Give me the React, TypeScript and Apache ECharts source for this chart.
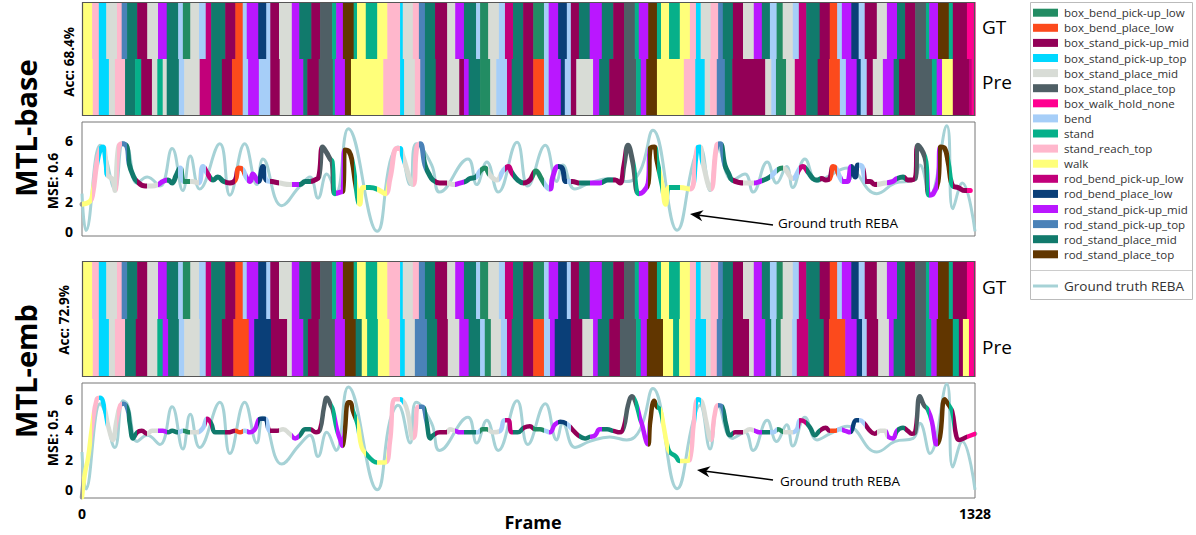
import React, { useEffect, useRef } from "react";
import * as echarts from "echarts";

const CLASS_NAMES = [
  "box_bend_pick-up_low", "box_bend_place_low", "box_stand_pick-up_mid", "box_stand_pick-up_top",
  "box_stand_place_mid", "box_stand_place_top", "box_walk_hold_none", "bend", "stand",
  "stand_reach_top", "walk", "rod_bend_pick-up_low", "rod_bend_place_low", "rod_stand_pick-up_mid",
  "rod_stand_pick-up_top", "rod_stand_place_mid", "rod_stand_place_top",
];
const CLASS_COLORS = [
  "#228C63", "#FC4A1C", "#930057", "#00D8FF", "#D8DCD6", "#4F5F65", "#FF0090", "#A6CEF8", "#06B08A",
  "#FFB7CC", "#FFFF7A", "#C2007A", "#0A3F78", "#BA17FF", "#4A82B8", "#117A6C", "#613600",
];
const GT_LINE_COLOR = "#A6D2D6";
const FRAME_MAX = 1328;
const X_TICKS = [0, 1328];
const Y_TICKS = [0, 2, 4, 6];
const MODEL_NAMES = ["MTL-base", "MTL-emb"];
const ACC_TEXT = ["Acc: 68.4%", "Acc: 72.9%"];
const MSE_TEXT = ["MSE: 0.6", "MSE: 0.5"];
const ROW_NAMES = ["Pre", "GT"];

// segments: [classIndex, endFrame]
const GT_SEG = [
  [10, 15], [9, 25], [3, 36], [4, 52], [9, 59], [14, 67], [15, 82], [2, 97], [4, 113], [13, 126], [15, 143], [7, 150], [0, 161], [4, 174], [7, 184], [11, 192], [15, 213], [2, 228], [1, 239], [7, 245], [13, 262], [12, 274], [7, 280], [2, 293], [4, 312], [13, 323], [15, 341], [2, 354], [5, 372], [8, 378], [13, 388], [16, 404], [8, 409], [10, 422], [8, 439], [10, 454], [9, 473],
  [3, 477], [4, 492], [9, 501], [14, 510], [15, 525], [2, 543], [4, 555], [13, 568], [15, 586], [7, 592], [0, 604], [4, 620], [7, 629], [11, 641], [15, 656], [2, 671], [0, 687], [7, 694], [13, 708], [12, 721], [7, 727], [2, 739], [15, 755], [13, 773], [15, 790], [2, 806], [5, 822], [8, 828], [13, 842], [16, 855], [8, 861], [10, 873], [8, 889], [10, 904], [9, 913],
  [3, 920], [4, 935], [9, 946], [14, 953], [15, 968], [2, 983], [4, 999], [13, 1011], [15, 1023], [7, 1033], [0, 1042], [4, 1057], [7, 1066], [11, 1077], [15, 1097], [2, 1112], [1, 1123], [7, 1130], [13, 1144], [12, 1155], [7, 1164], [2, 1182], [4, 1197], [13, 1212], [15, 1224], [2, 1239], [5, 1255], [8, 1260], [13, 1273], [16, 1289], [8, 1295], [2, 1316], [6, 1328],
];
const BASE_PRE_SEG = [
  [10, 16], [9, 25], [3, 40], [4, 49], [9, 64], [15, 79], [8, 88], [2, 104], [4, 112], [8, 120], [4, 126], [15, 144], [7, 152], [4, 175], [11, 192], [15, 208], [2, 223], [1, 239], [7, 247], [13, 263], [7, 280], [2, 294], [4, 312], [13, 329], [15, 335], [2, 352], [5, 373], [8, 376], [13, 391], [16, 400], [10, 448], [9, 473],
  [3, 479], [4, 495], [9, 503], [14, 510], [15, 526], [2, 543], [4, 561], [2, 568], [13, 575], [15, 592], [0, 607], [4, 616], [7, 632], [11, 639], [15, 656], [2, 671], [1, 687], [7, 694], [13, 712], [12, 718], [7, 727], [2, 735], [4, 760], [13, 769], [15, 784], [2, 806], [5, 824], [8, 831], [13, 839], [16, 855], [10, 895], [9, 912],
  [3, 926], [4, 934], [9, 944], [14, 956], [15, 967], [2, 1016], [4, 1025], [7, 1032], [0, 1047], [4, 1060], [11, 1077], [15, 1094], [2, 1111], [1, 1127], [7, 1136], [13, 1152], [12, 1158], [7, 1167], [2, 1176], [4, 1191], [13, 1207], [15, 1215], [2, 1239], [5, 1264], [8, 1271], [13, 1279], [10, 1295], [2, 1319], [11, 1323], [6, 1328],
];
const EMB_PRE_SEG = [
  [10, 16], [9, 25], [3, 40], [4, 49], [9, 64], [15, 80], [2, 97], [4, 112], [8, 120], [13, 128], [15, 144], [7, 152], [4, 175], [7, 184], [11, 192], [15, 208], [2, 225], [1, 248], [13, 256], [12, 281], [2, 305], [4, 312], [13, 329], [15, 336], [2, 352], [5, 376], [13, 391], [16, 407], [15, 416], [10, 424], [8, 440], [10, 457], [9, 473],
  [3, 480], [4, 495], [14, 513], [15, 528], [2, 544], [4, 561], [13, 575], [15, 592], [7, 599], [0, 608], [4, 623], [7, 632], [11, 639], [15, 656], [2, 671], [1, 687], [7, 696], [13, 703], [12, 727], [2, 744], [4, 760], [13, 767], [15, 784], [2, 800], [5, 824], [8, 831], [13, 840], [16, 864], [10, 879], [8, 888], [10, 904], [9, 912],
  [3, 928], [4, 935], [9, 944], [14, 952], [15, 968], [2, 992], [4, 999], [13, 1016], [15, 1025], [7, 1032], [0, 1039], [4, 1056], [7, 1063], [11, 1080], [15, 1103], [2, 1111], [1, 1135], [13, 1152], [12, 1160], [7, 1167], [2, 1184], [4, 1200], [13, 1207], [15, 1224], [2, 1239], [5, 1255], [8, 1263], [13, 1271], [16, 1295], [8, 1304], [2, 1310], [10, 1319], [6, 1328],
];

// [frame, REBA]
const GT_REBA = [
  [0, 2.5], [6, 0.05], [27, 5.7], [33, 5.3], [49, 2.8], [61, 5.9], [68, 5.6], [82, 3.2], [97, 3.6], [116, 3.0], [134, 5.5], [150, 2.7], [161, 5.0], [175, 2.8], [205, 5.8], [220, 2.4], [242, 5.8], [260, 3.1], [269, 4.8], [297, 1.7], [324, 3.0], [339, 3.6], [351, 2.2], [364, 3.8], [378, 2.6], [396, 6.8], [439, 0.0], [458, 4.6], [470, 5.6],
  [488, 3.1], [497, 5.8], [520, 4.4], [532, 2.6], [574, 4.8], [587, 3.1], [602, 4.6], [619, 2.6], [647, 5.9], [663, 3.0], [689, 5.7], [706, 3.3], [715, 4.4], [733, 2.8], [755, 3.2], [785, 3.5], [810, 3.3], [830, 4.0], [849, 6.7], [885, 0.07], [909, 4.6], [919, 5.6],
  [934, 2.7], [946, 5.6], [967, 3.4], [986, 3.8], [998, 2.6], [1019, 4.6], [1033, 3.2], [1048, 4.3], [1057, 2.9], [1075, 4.8], [1093, 3.3], [1112, 3.7], [1138, 4.2], [1182, 2.5], [1209, 3.2], [1236, 3.4], [1246, 4.4], [1261, 2.4], [1286, 7.0], [1295, 1.5], [1309, 3.2], [1328, 0.0],
];
const BASE_PRED_REBA = [
  [0, 1.8], [12, 2.0], [16, 2.5], [22, 4.5], [27, 5.4], [31, 5.6], [36, 4.4], [37, 3.8], [46, 3.4], [49, 2.7], [54, 5.5], [59, 5.8], [67, 5.6], [70, 4.5], [76, 3.7], [82, 3.3], [94, 3.0], [104, 3.0], [113, 3.1], [120, 3.3], [128, 3.4], [134, 3.2], [140, 3.7], [146, 4.2], [152, 3.3], [164, 3.3], [173, 3.2], [180, 4.3], [187, 3.8], [195, 3.4], [202, 3.6], [211, 3.3], [220, 3.2], [228, 3.4], [233, 4.2], [239, 4.1], [244, 3.6], [250, 3.3], [254, 3.8], [262, 3.3], [269, 4.3], [274, 3.4], [283, 3.3], [294, 3.2], [309, 3.1], [324, 3.1], [332, 3.3], [339, 3.3], [346, 3.4], [352, 3.6], [358, 5.6], [364, 5.2], [369, 4.8], [372, 4.6], [376, 2.5], [384, 2.6], [388, 2.7], [391, 5.4], [397, 5.3], [402, 4.6], [407, 3.1], [413, 1.8], [418, 2.9], [428, 2.9], [439, 2.8], [451, 2.5], [458, 3.5], [468, 5.5],
  [473, 5.5], [477, 5.0], [492, 3.1], [498, 5.6], [503, 5.8], [510, 4.4], [516, 3.8], [522, 3.4], [532, 3.2], [543, 3.2], [552, 3.1], [562, 3.2], [570, 3.3], [577, 3.5], [586, 3.6], [592, 4.0], [599, 4.2], [607, 3.7], [617, 3.4], [626, 4.0], [634, 4.3], [639, 3.9], [648, 3.4], [657, 3.2], [666, 3.4], [675, 4.0], [683, 3.5], [690, 3.0], [696, 2.8], [700, 3.6], [708, 4.3], [714, 4.2], [720, 3.3], [729, 3.3], [741, 3.2], [755, 3.2], [770, 3.2], [782, 3.4], [793, 3.4], [800, 3.2], [806, 4.4], [812, 5.7], [819, 4.6], [828, 2.5], [834, 2.6], [842, 3.2], [845, 5.5], [851, 5.6], [855, 4.7], [863, 3.0], [868, 1.8], [873, 2.9], [889, 2.9], [904, 2.8], [915, 5.5], [919, 5.6], [923, 4.6], [935, 2.8], [944, 5.7], [949, 5.8], [956, 4.4], [962, 3.8], [967, 3.4], [986, 3.2], [998, 3.2], [1008, 3.3], [1023, 3.6], [1035, 4.1], [1042, 4.2], [1057, 3.5], [1068, 4.2],
  [1072, 4.3], [1080, 3.9], [1087, 3.5], [1093, 3.4], [1100, 3.5], [1106, 3.4], [1112, 3.5], [1117, 4.3], [1121, 4.2], [1127, 3.6], [1132, 3.3], [1138, 3.3], [1144, 4.3], [1150, 3.6], [1154, 4.4], [1160, 4.3], [1166, 3.3], [1172, 3.3], [1179, 3.1], [1194, 3.2], [1205, 3.3], [1212, 3.5], [1221, 3.6], [1228, 3.4], [1239, 3.5], [1243, 5.7], [1251, 5.2], [1255, 4.6], [1260, 2.4], [1266, 2.5], [1273, 3.3], [1277, 5.6], [1283, 5.5], [1288, 4.6], [1295, 3.0], [1303, 2.9], [1313, 2.7], [1321, 2.7],
];
const EMB_PRED_REBA = [
  [0, -0.5], [4, 1.0], [9, 2.1], [15, 4.2], [22, 6.0], [27, 6.1], [34, 5.3], [39, 4.2], [46, 3.3], [51, 4.5], [57, 5.6], [62, 5.7], [68, 5.3], [71, 4.4], [76, 3.4], [82, 3.8], [89, 3.9], [97, 3.7], [104, 3.9], [113, 3.9], [120, 3.9], [128, 3.8], [134, 3.9], [143, 3.8], [150, 3.9], [161, 3.8], [171, 3.8], [180, 4.1], [186, 4.7], [192, 4.4], [198, 3.8], [208, 3.8], [217, 3.8], [228, 3.9], [235, 3.8], [242, 3.9], [250, 3.8], [257, 4.0], [265, 4.7], [272, 4.7], [280, 3.9], [290, 3.9], [299, 4.0], [309, 3.7], [317, 3.4], [324, 3.6], [332, 4.0], [339, 4.0], [348, 3.8], [354, 4.0], [360, 5.5], [364, 6.1], [370, 5.6], [373, 5.3], [379, 4.0], [384, 3.3], [387, 2.9], [390, 3.5], [396, 5.8], [399, 5.8], [403, 5.2], [410, 4.3], [416, 2.8], [424, 2.3], [433, 1.9], [439, 1.8], [451, 1.8], [458, 3.2], [465, 6.0],
  [473, 6.0], [480, 5.7], [485, 5.0], [492, 3.4], [495, 3.6], [500, 5.5], [506, 5.5], [512, 4.6], [518, 3.4], [522, 3.6], [532, 3.8], [543, 3.8], [547, 4.0], [555, 3.9], [562, 3.8], [570, 3.8], [580, 3.8], [589, 3.8], [595, 4.0], [602, 4.0], [611, 3.8], [622, 3.9], [628, 4.6], [634, 4.6], [639, 3.8], [648, 3.8], [657, 4.1], [666, 4.2], [674, 4.0], [681, 4.0], [689, 3.9], [696, 3.8], [703, 4.3], [711, 4.5], [720, 4.4], [729, 4.0], [738, 3.6], [748, 3.4], [755, 3.5], [763, 3.6], [770, 4.0], [781, 4.0], [790, 3.9], [800, 3.8], [806, 4.2], [812, 5.6], [818, 6.2], [824, 5.7], [830, 4.7], [833, 4.3], [839, 3.2], [842, 3.0], [845, 4.5], [851, 5.9], [855, 5.5], [860, 5.3], [865, 4.2], [870, 3.0], [874, 2.5], [883, 2.2], [889, 1.9], [898, 1.9], [904, 2.0], [910, 4.5], [916, 6.0], [922, 5.8], [928, 4.6], [935, 3.3], [941, 5.0], [946, 5.6], [952, 5.5], [958, 4.3], [964, 3.6], [971, 3.8], [983, 3.8], [993, 4.0], [1001, 3.9], [1008, 3.8], [1019, 3.8], [1028, 3.8], [1035, 4.0], [1045, 3.8], [1057, 3.8], [1063, 4.0],
  [1068, 4.6], [1075, 4.5], [1083, 4.1], [1090, 3.6], [1097, 3.9], [1106, 4.1], [1112, 3.9], [1120, 3.9], [1127, 4.0], [1135, 3.9], [1142, 3.8], [1151, 4.6], [1157, 4.6], [1163, 4.4], [1172, 3.9], [1179, 3.7], [1187, 3.9], [1194, 3.9], [1199, 3.5], [1206, 3.4], [1212, 3.9], [1221, 4.1], [1228, 3.9], [1234, 3.7], [1239, 3.8], [1246, 6.2], [1252, 5.6], [1258, 5.3], [1264, 4.5], [1269, 3.1], [1271, 3.0], [1276, 3.5], [1283, 6.0], [1289, 5.6], [1294, 5.2], [1300, 3.6], [1304, 3.3], [1316, 3.5], [1328, 3.7],
];

const FONT = '"Open Sans", "Noto Sans", sans-serif';

// layout (pixels)
const PLOT_LEFT = 82;
const PLOT_WIDTH = 893;
const PANELS = [
  { top: 2, height: 114 },
  { top: 122, height: 114 },
  { top: 261, height: 116 },
  { top: 383, height: 115 },
];
const LINE_RANGES = [
  { min: -0.31, max: 7.25 },
  { min: -0.55, max: 7.07 },
];

function segItems(seg: number[][], row: number) {
  let start = 0;
  return seg.map(([c, end]) => {
    const it = [start, end, row, c];
    start = end;
    return it;
  });
}

function segPieces(seg: number[][]) {
  let start = 0;
  return seg.map(([c, end], i) => {
    const p: any = { gte: start, color: CLASS_COLORS[c] };
    if (i === seg.length - 1) p.lte = end + 1;
    else p.lt = end;
    start = end;
    return p;
  });
}

function arrow(tip: number[], tail: number[]) {
  const dx = tip[0] - tail[0];
  const dy = tip[1] - tail[1];
  const len = Math.hypot(dx, dy);
  const ux = dx / len, uy = dy / len;
  const px = -uy, py = ux;
  const L = 13, W = 5.5;
  const bx = tip[0] - ux * L, by = tip[1] - uy * L;
  const nx = tip[0] - ux * (L * 0.7), ny = tip[1] - uy * (L * 0.7);
  return [
    { type: "line", shape: { x1: tail[0], y1: tail[1], x2: nx, y2: ny }, style: { stroke: "#000", lineWidth: 1.6 } },
    {
      type: "polygon",
      shape: { points: [[tip[0], tip[1]], [bx + px * W, by + py * W], [nx, ny], [bx - px * W, by - py * W]] },
      style: { fill: "#000" },
    },
  ];
}

function txt(text: string, x: number, y: number, size: number, opts: any = {}) {
  return {
    type: "text",
    x,
    y,
    rotation: opts.rotation || 0,
    style: {
      text,
      fontSize: size,
      fontWeight: opts.weight || "normal",
      fontFamily: FONT,
      fill: opts.fill || "#000",
      align: opts.align || "center",
      verticalAlign: "middle",
      textAlign: opts.align || "center",
      textVerticalAlign: "middle",
    },
  };
}

export default function App() {
  const ref = useRef<HTMLDivElement>(null);
  useEffect(() => {
    if (!ref.current) return;
    const chart = echarts.init(ref.current, null, { renderer: "svg" });

    const grids = PANELS.map((p, i) => ({
      left: PLOT_LEFT,
      top: p.top,
      width: PLOT_WIDTH,
      height: p.height,
      show: i === 1 || i === 3,
      borderColor: "#777",
      borderWidth: 1,
      backgroundColor: "transparent",
    }));

    const xAxes = PANELS.map((_, i) => ({
      type: "value",
      gridIndex: i,
      min: 0,
      max: FRAME_MAX,
      interval: FRAME_MAX,
      axisLine: { show: false },
      axisTick: { show: false },
      splitLine: { show: false },
      axisLabel: {
        show: i === 3,
        customValues: X_TICKS,
        formatter: (v: number) => String(v),
        margin: 8,
        fontSize: 14,
        fontWeight: "bold",
        fontFamily: FONT,
        color: "#000",
      },
    }));

    const yAxes = PANELS.map((_, i) => {
      if (i === 0 || i === 2) {
        return { type: "category", gridIndex: i, data: ROW_NAMES, show: false };
      }
      const r = LINE_RANGES[i === 1 ? 0 : 1];
      return {
        type: "value",
        gridIndex: i,
        min: r.min,
        max: r.max,
        axisLine: { show: false },
        axisTick: { show: false },
        splitLine: { show: false },
        axisLabel: {
          customValues: Y_TICKS,
          margin: 9,
          fontSize: 14,
          fontWeight: "bold",
          fontFamily: FONT,
          color: "#000",
        },
      };
    });

    const renderSeg = (_params: any, api: any) => {
      const p0 = api.coord([api.value(0), api.value(2)]);
      const p1 = api.coord([api.value(1), api.value(2)]);
      const h = api.size([0, 1])[1];
      return {
        type: "rect",
        shape: { x: p0[0], y: p0[1] - h / 2, width: p1[0] - p0[0] + 0.6, height: h },
        style: { fill: CLASS_COLORS[api.value(3)] },
      };
    };

    const segSeries = (gi: number, pre: number[][]) => ({
      type: "custom",
      xAxisIndex: gi,
      yAxisIndex: gi,
      renderItem: renderSeg,
      encode: { x: [0, 1], y: 2 },
      data: [...segItems(GT_SEG, 1), ...segItems(pre, 0)],
      silent: true,
    });

    const gtSeries = (gi: number) => ({
      type: "line",
      xAxisIndex: gi,
      yAxisIndex: gi,
      data: GT_REBA,
      smooth: 0.45,
      showSymbol: false,
      lineStyle: { color: GT_LINE_COLOR, width: 3 },
      z: 2,
      silent: true,
    });

    const predSeries = (gi: number, data: number[][], width: number) => ({
      type: "line",
      xAxisIndex: gi,
      yAxisIndex: gi,
      data,
      smooth: 0.45,
      showSymbol: false,
      lineStyle: { width, cap: "round" },
      z: 3,
      silent: true,
    });

    const graphics: any[] = [];
    [0, 2].forEach((i) => {
      graphics.push({
        type: "rect",
        shape: { x: PLOT_LEFT + 0.5, y: PANELS[i].top + 0.5, width: PLOT_WIDTH - 1, height: PANELS[i].height - 1 },
        style: { fill: "none", stroke: "#555", lineWidth: 1.2 },
        z: 100,
      });
    });
    graphics.push(txt(MODEL_NAMES[0], 25, 128, 29, { weight: "bold", rotation: Math.PI / 2 }));
    graphics.push(txt(MODEL_NAMES[1], 25, 371, 29, { weight: "bold", rotation: Math.PI / 2 }));
    graphics.push(txt(ACC_TEXT[0], 69, 62, 13.5, { weight: "bold", rotation: Math.PI / 2 }));
    graphics.push(txt(ACC_TEXT[1], 64, 320, 13.5, { weight: "bold", rotation: Math.PI / 2 }));
    graphics.push(txt(MSE_TEXT[0], 52, 181, 14, { weight: "bold", rotation: Math.PI / 2 }));
    graphics.push(txt(MSE_TEXT[1], 52, 438, 14, { weight: "bold", rotation: Math.PI / 2 }));
    graphics.push(txt("GT", 982, 27, 19, { align: "left" }));
    graphics.push(txt("Pre", 982, 82, 19, { align: "left" }));
    graphics.push(txt("GT", 982, 287, 19, { align: "left" }));
    graphics.push(txt("Pre", 982, 347, 19, { align: "left" }));
    graphics.push(txt("Frame", 533, 522, 18, { weight: "bold" }));
    graphics.push(...arrow([690, 214], [773, 225]));
    graphics.push(txt("Ground truth REBA", 778, 223, 13.5, { align: "left" }));
    graphics.push(...arrow([697, 470], [773, 480]));
    graphics.push(txt("Ground truth REBA", 780, 481, 13.5, { align: "left" }));

    graphics.push({
      type: "rect",
      shape: { x: 1030.5, y: 2.5, width: 162, height: 297 },
      style: { fill: "#fff", stroke: "#bbb", lineWidth: 1 },
      z: 50,
    });
    CLASS_NAMES.forEach((name, i) => {
      const y = 12.7 + 15.1 * i;
      graphics.push({
        type: "rect",
        shape: { x: 1033, y: y - 4, width: 25, height: 8 },
        style: { fill: CLASS_COLORS[i] },
        z: 51,
      });
      graphics.push({ ...txt(name, 1064, y, 11.5, { align: "left", fill: "#333" }), z: 51 });
    });
    graphics.push({
      type: "line",
      shape: { x1: 1031, y1: 270.5, x2: 1192, y2: 270.5 },
      style: { stroke: "#ccc", lineWidth: 1 },
      z: 51,
    });
    graphics.push({
      type: "line",
      shape: { x1: 1033, y1: 286, x2: 1058, y2: 286 },
      style: { stroke: GT_LINE_COLOR, lineWidth: 3 },
      z: 51,
    });
    graphics.push({ ...txt("Ground truth REBA", 1064, 286, 13.5, { align: "left", fill: "#333" }), z: 51 });

    chart.setOption({
      animation: false,
      textStyle: { fontFamily: FONT },
      grid: grids,
      xAxis: xAxes,
      yAxis: yAxes,
      visualMap: [
        {
          type: "piecewise",
          show: false,
          dimension: 0,
          seriesIndex: [2, 5],
          pieces: segPieces(GT_SEG),
          outOfRange: { color: "#999" },
        },
      ],
      series: [
        segSeries(0, BASE_PRE_SEG),
        gtSeries(1),
        predSeries(1, BASE_PRED_REBA, 5),
        segSeries(2, EMB_PRE_SEG),
        gtSeries(3),
        predSeries(3, EMB_PRED_REBA, 4.5),
      ],
      graphic: graphics,
    });

    return () => chart.dispose();
  }, []);

  return (
    <div
      ref={ref}
      style={{ position: "absolute", left: 0, top: 0, width: 1196, height: 535, background: "#fff" }}
    />
  );
}
